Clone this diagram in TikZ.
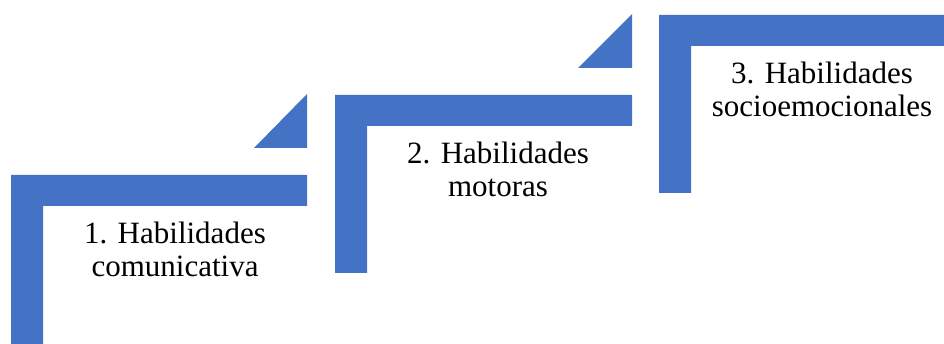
\documentclass[tikz,border=0pt]{standalone}
\usepackage{fontspec}
\setmainfont{Liberation Serif}
\definecolor{stepblue}{HTML}{4472C4}
\begin{document}
\begin{tikzpicture}[x=1pt,y=-1pt,
  corner/.style={fill=stepblue,draw=none},
  lbl/.style={align=center,font=\fontsize{31}{33}\selectfont,inner sep=0pt,anchor=base}]
\useasboundingbox (0,0) rectangle (944,344);
% step 1
\fill[corner] (11,344) -- (11,175) -- (307,175) -- (307,206) -- (43,206) -- (43,344) -- cycle;
\fill[corner] (254,148) -- (307,148) -- (307,94) -- cycle;
% step 2
\fill[corner] (335,273) -- (335,95) -- (632,95) -- (632,126) -- (367,126) -- (367,273) -- cycle;
\fill[corner] (578,68) -- (632,68) -- (632,14) -- cycle;
% step 3
\fill[corner] (659,193) -- (659,15) -- (944,15) -- (944,46) -- (691,46) -- (691,193) -- cycle;
\node[lbl] (t1) at (175,277) {1. Habilidades\\comunicativa};
\node[lbl] (t2) at (498,197) {2. Habilidades\\motoras};
\node[lbl] (t3) at (822,117) {3. Habilidades\\socioemocionales};
\end{tikzpicture}
\end{document}
